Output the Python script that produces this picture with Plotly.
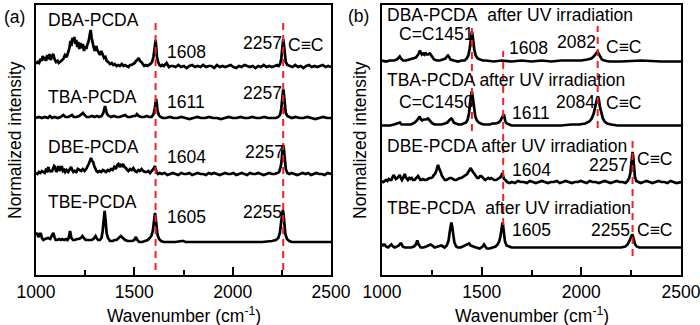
import plotly.graph_objects as go

W, H = 700, 325

# ---------------------------------------------------------------
# Raman spectra, (wavenumber cm^-1, relative intensity) pairs
# ---------------------------------------------------------------
# (a) as-prepared films
dba = [(1000, 4), (1008, 6), (1016, 5), (1022, 9), (1028, 7), (1034, 12), (1040, 8), (1046, 11),
       (1051, 7), (1057, 13), (1063, 9), (1069, 14), (1075, 8), (1081, 12), (1088, 14), (1094, 9),
       (1102, 6), (1110, 7), (1116, 5), (1122, 6), (1130, 8), (1139, 9), (1147, 13), (1156, 11),
       (1164, 16), (1170, 20), (1175, 27), (1180, 22), (1185, 30), (1190, 26), (1195, 31), (1200, 24),
       (1205, 28), (1210, 21), (1215, 26), (1220, 19), (1226, 25), (1232, 20), (1238, 24), (1244, 17),
       (1250, 22), (1256, 19), (1262, 24), (1268, 27), (1273, 33), (1278, 38), (1283, 30), (1288, 25),
       (1294, 20), (1300, 17), (1306, 22), (1312, 18), (1318, 15), (1325, 13), (1332, 17), (1339, 14),
       (1346, 10), (1353, 11), (1360, 7), (1368, 6), (1376, 4), (1385, 5), (1393, 3), (1400, 4),
       (1410, 2), (1418, 3), (1426, 2), (1436, 4), (1445, 2), (1452, 3), (1461, 2), (1470, 1),
       (1478, 3), (1486, 3), (1494, 4), (1502, 5), (1508, 7), (1515, 8), (1522, 10), (1529, 7),
       (1536, 6), (1543, 4), (1550, 2), (1558, 3), (1566, 2), (1574, 3), (1582, 4), (1590, 6),
       (1597, 11), (1602, 18), (1606, 26), (1608, 28), (1611, 22), (1615, 11), (1621, 6), (1628, 3),
       (1635, 2), (1642, 3), (1650, 2), (1657, 4), (1664, 5), (1670, 3), (1676, 1), (1684, 2),
       (1696, 2), (1710, 1), (1724, 3), (1738, 1), (1752, 2), (1766, 0), (1780, 2), (1794, 3),
       (1808, 1), (1822, 2), (1836, 1), (1850, 3), (1864, 1), (1878, 2), (1892, 2), (1906, 0),
       (1920, 3), (1934, 1), (1948, 2), (1962, 1), (1976, 2), (1990, 3), (2004, 1), (2018, 0),
       (2032, 2), (2046, 1), (2060, 3), (2074, 2), (2088, 1), (2102, 2), (2116, 0), (2130, 2),
       (2144, 1), (2158, 3), (2172, 1), (2186, 2), (2200, 1), (2214, 2), (2226, 3), (2234, 2),
       (2241, 4), (2247, 9), (2252, 18), (2255, 26), (2257, 29), (2260, 25), (2264, 14), (2270, 6),
       (2278, 3), (2290, 2), (2304, 1), (2318, 3), (2332, 1), (2346, 2), (2360, 0), (2374, 2),
       (2388, 3), (2402, 1), (2416, 2), (2430, 1), (2444, 2), (2458, 3), (2472, 1), (2486, 2),
       (2500, 1)]

tba = [(1000, 1), (1015, 2), (1030, 1), (1045, 2), (1060, 1), (1071, 3), (1082, 1), (1095, 2),
       (1110, 1), (1125, 2), (1139, 4), (1150, 2), (1165, 2), (1175, 3), (1183, 4), (1192, 2),
       (1205, 2), (1220, 3), (1232, 5), (1239, 6), (1247, 4), (1258, 2), (1270, 2), (1285, 3),
       (1298, 2), (1310, 3), (1322, 2), (1334, 3), (1342, 6), (1347, 10), (1351, 13), (1355, 10),
       (1361, 5), (1370, 3), (1382, 2), (1395, 3), (1410, 2), (1425, 2), (1440, 3), (1453, 4),
       (1465, 2), (1480, 2), (1495, 3), (1505, 3), (1513, 5), (1522, 3), (1535, 2), (1550, 2),
       (1563, 3), (1575, 2), (1588, 2), (1598, 5), (1604, 11), (1608, 18), (1611, 20), (1614, 16),
       (1618, 8), (1625, 4), (1633, 2), (1645, 1), (1660, 1), (1680, 2), (1700, 1), (1720, 1),
       (1740, 2), (1760, 1), (1780, 0), (1800, 1), (1820, 2), (1840, 1), (1860, 1), (1880, 2),
       (1900, 1), (1920, 1), (1940, 0), (1960, 1), (1980, 2), (2000, 1), (2020, 1), (2040, 2),
       (2060, 1), (2080, 1), (2100, 2), (2120, 1), (2140, 1), (2160, 2), (2180, 1), (2200, 1),
       (2220, 1), (2232, 2), (2241, 4), (2247, 10), (2252, 20), (2255, 27), (2257, 30), (2260, 26),
       (2264, 15), (2270, 6), (2278, 3), (2288, 2), (2300, 1), (2320, 2), (2340, 1), (2360, 1),
       (2380, 2), (2400, 1), (2420, 0), (2440, 1), (2460, 2), (2480, 1), (2500, 1)]

dbe = [(1000, 2), (1008, 1), (1015, 3), (1022, 2), (1030, 4), (1037, 3), (1044, 2), (1050, 5),
       (1056, 4), (1063, 8), (1069, 3), (1075, 5), (1080, 3), (1086, 6), (1092, 9), (1097, 8),
       (1103, 3), (1109, 5), (1114, 9), (1120, 4), (1126, 6), (1131, 9), (1137, 4), (1143, 5),
       (1148, 3), (1155, 5), (1164, 3), (1172, 6), (1178, 8), (1184, 5), (1190, 3), (1197, 4),
       (1205, 3), (1213, 6), (1222, 5), (1230, 4), (1238, 6), (1247, 4), (1255, 6), (1262, 8),
       (1268, 11), (1274, 14), (1280, 17), (1285, 14), (1291, 13), (1296, 9), (1301, 7), (1308, 4),
       (1315, 3), (1323, 4), (1332, 3), (1340, 5), (1348, 4), (1356, 3), (1365, 5), (1373, 4),
       (1381, 6), (1390, 5), (1398, 8), (1406, 6), (1413, 10), (1419, 11), (1425, 8), (1431, 10),
       (1437, 9), (1443, 11), (1450, 8), (1457, 7), (1464, 5), (1470, 4), (1478, 6), (1486, 5),
       (1495, 7), (1503, 4), (1512, 3), (1520, 5), (1528, 4), (1537, 6), (1545, 4), (1553, 3),
       (1563, 3), (1572, 4), (1580, 2), (1588, 4), (1595, 5), (1600, 7), (1604, 9), (1608, 6),
       (1613, 3), (1620, 1), (1628, 2), (1640, 1), (1654, 2), (1668, 0), (1682, 1), (1696, 2),
       (1710, 1), (1724, 0), (1738, 2), (1752, 1), (1766, 1), (1780, 2), (1794, 0), (1808, 1),
       (1822, 2), (1836, 1), (1850, 1), (1864, 0), (1878, 2), (1892, 1), (1906, 2), (1920, 1),
       (1934, 0), (1948, 1), (1962, 2), (1976, 1), (1990, 1), (2004, 2), (2018, 0), (2032, 1),
       (2046, 2), (2060, 1), (2074, 0), (2088, 2), (2102, 1), (2116, 1), (2130, 2), (2144, 1),
       (2158, 0), (2172, 1), (2186, 2), (2200, 1), (2214, 1), (2226, 2), (2236, 3), (2244, 8),
       (2249, 14), (2253, 24), (2257, 30), (2260, 27), (2264, 16), (2270, 6), (2278, 2), (2288, 1),
       (2300, 2), (2314, 1), (2328, 0), (2342, 1), (2356, 2), (2370, 1), (2384, 2), (2398, 0),
       (2412, 1), (2426, 2), (2440, 1), (2454, 1), (2468, 0), (2482, 2), (2500, 1)]

tbe = [(1000, 8), (1006, 10), (1012, 6), (1018, 8), (1024, 10), (1030, 5), (1037, 3), (1045, 4),
       (1055, 5), (1063, 5), (1072, 4), (1080, 7), (1088, 10), (1094, 6), (1100, 3), (1108, 3),
       (1118, 4), (1126, 3), (1134, 4), (1143, 3), (1152, 4), (1160, 3), (1166, 5), (1173, 12),
       (1180, 5), (1188, 3), (1198, 3), (1208, 4), (1218, 4), (1228, 5), (1236, 7), (1243, 5),
       (1252, 3), (1262, 3), (1272, 3), (1283, 3), (1292, 4), (1299, 6), (1303, 7), (1308, 5),
       (1316, 3), (1325, 3), (1333, 5), (1339, 12), (1344, 24), (1349, 32), (1354, 22), (1359, 10),
       (1366, 5), (1376, 2), (1390, 2), (1400, 3), (1410, 3), (1420, 5), (1431, 7), (1442, 5),
       (1453, 3), (1466, 2), (1478, 2), (1490, 2), (1500, 3), (1508, 6), (1515, 3), (1525, 1),
       (1540, 1), (1554, 2), (1568, 3), (1578, 5), (1586, 7), (1594, 12), (1600, 22), (1603, 28),
       (1605, 30), (1608, 26), (1612, 15), (1618, 8), (1626, 4), (1636, 2), (1650, 1), (1680, 1),
       (1710, 1), (1740, 2), (1750, 2), (1760, 1), (1800, 1), (1850, 1), (1900, 1), (1950, 1),
       (2000, 1), (2050, 1), (2100, 1), (2150, 1), (2200, 2), (2220, 3), (2232, 5), (2240, 10),
       (2246, 20), (2250, 28), (2253, 32), (2255, 33), (2258, 30), (2262, 19), (2268, 9), (2276, 4),
       (2288, 2), (2300, 1), (2350, 1), (2400, 1), (2450, 1), (2500, 1)]

# (b) the same films after UV irradiation
dba_uv = [(1000, 1), (1020, 0), (1040, 1), (1060, 1), (1075, 2), (1083, 4), (1089, 5), (1095, 3),
          (1105, 1), (1120, 1), (1135, 2), (1147, 3), (1158, 3), (1170, 4), (1178, 6), (1185, 8),
          (1190, 11), (1195, 9), (1200, 7), (1206, 8), (1212, 7), (1217, 9), (1223, 7), (1231, 7),
          (1238, 8), (1244, 7), (1252, 4), (1261, 2), (1275, 1), (1289, 1), (1305, 2), (1318, 3),
          (1326, 5), (1331, 6), (1338, 4), (1344, 2), (1360, 1), (1381, 0), (1400, 1), (1415, 1),
          (1425, 3), (1433, 6), (1440, 13), (1445, 22), (1449, 29), (1451, 30), (1454, 27), (1458, 19),
          (1463, 12), (1470, 6), (1480, 3), (1492, 2), (1505, 1), (1520, 1), (1560, 0), (1600, 1),
          (1650, 0), (1700, 1), (1750, 0), (1800, 1), (1850, 0), (1900, 1), (1950, 1), (2000, 1),
          (2030, 2), (2050, 3), (2062, 5), (2072, 8), (2078, 10), (2082, 10), (2086, 8), (2093, 5),
          (2103, 2), (2115, 1), (2140, 0), (2200, 0), (2300, 1), (2400, 0), (2500, 0)]

tba_uv = [(1000, 1), (1020, 1), (1040, 1), (1060, 2), (1075, 3), (1084, 4), (1090, 4), (1098, 2),
          (1112, 2), (1130, 2), (1145, 2), (1155, 3), (1165, 4), (1175, 6), (1182, 8), (1189, 10),
          (1195, 7), (1201, 6), (1208, 7), (1214, 7), (1222, 7), (1231, 8), (1238, 6), (1244, 5),
          (1254, 3), (1265, 2), (1280, 2), (1298, 2), (1315, 3), (1328, 4), (1336, 6), (1342, 7),
          (1348, 8), (1353, 7), (1360, 4), (1370, 3), (1385, 2), (1398, 2), (1412, 3), (1422, 4),
          (1430, 7), (1437, 14), (1442, 24), (1446, 32), (1450, 35), (1453, 33), (1457, 25), (1462, 17),
          (1468, 10), (1476, 6), (1485, 4), (1495, 3), (1510, 2), (1525, 2), (1540, 2), (1555, 3),
          (1570, 3), (1585, 4), (1595, 6), (1602, 9), (1607, 11), (1611, 12), (1614, 10), (1619, 5),
          (1626, 3), (1636, 2), (1650, 1), (1700, 1), (1750, 1), (1800, 1), (1850, 1), (1900, 1),
          (1950, 2), (1990, 2), (2020, 3), (2040, 5), (2052, 8), (2062, 13), (2070, 20), (2076, 26),
          (2080, 29), (2084, 30), (2088, 27), (2093, 20), (2100, 13), (2108, 8), (2117, 5), (2130, 3),
          (2150, 2), (2180, 1), (2230, 1), (2300, 1), (2400, 1), (2500, 1)]

dbe_uv = [(1000, 2), (1007, 1), (1013, 2), (1020, 3), (1027, 2), (1034, 4), (1040, 3), (1047, 3),
          (1053, 6), (1058, 8), (1064, 6), (1070, 4), (1077, 5), (1083, 7), (1089, 8), (1094, 5),
          (1100, 3), (1106, 5), (1110, 7), (1114, 9), (1119, 6), (1124, 4), (1130, 3), (1137, 5),
          (1143, 4), (1149, 5), (1156, 3), (1163, 3), (1170, 5), (1176, 6), (1181, 7), (1187, 5),
          (1192, 3), (1197, 3), (1205, 4), (1213, 3), (1222, 3), (1230, 4), (1238, 5), (1247, 5),
          (1254, 6), (1260, 8), (1266, 9), (1272, 12), (1277, 16), (1281, 18), (1286, 15), (1291, 13),
          (1296, 10), (1301, 7), (1308, 5), (1315, 3), (1323, 3), (1331, 4), (1340, 5), (1348, 5),
          (1356, 4), (1364, 3), (1373, 3), (1381, 4), (1390, 5), (1398, 5), (1406, 6), (1414, 7),
          (1420, 8), (1427, 9), (1433, 11), (1440, 14), (1445, 15), (1450, 13), (1456, 11), (1461, 10),
          (1467, 8), (1473, 6), (1478, 5), (1485, 5), (1492, 7), (1498, 7), (1505, 5), (1512, 4),
          (1518, 3), (1526, 4), (1533, 5), (1540, 4), (1548, 5), (1556, 4), (1563, 3), (1573, 3),
          (1582, 4), (1590, 5), (1595, 6), (1600, 8), (1604, 10), (1608, 7), (1612, 4), (1619, 3),
          (1628, 1), (1640, 0), (1652, 1), (1667, 0), (1682, 2), (1697, 1), (1712, 1), (1727, 0),
          (1742, 2), (1757, 1), (1772, 0), (1787, 1), (1802, 2), (1817, 1), (1832, 0), (1847, 1),
          (1862, 1), (1877, 2), (1892, 0), (1907, 1), (1922, 2), (1937, 1), (1952, 0), (1967, 1),
          (1982, 1), (1997, 2), (2012, 1), (2027, 0), (2042, 2), (2057, 1), (2072, 1), (2087, 0),
          (2102, 1), (2117, 2), (2132, 1), (2147, 0), (2162, 1), (2177, 2), (2192, 1), (2207, 1),
          (2222, 0), (2232, 2), (2240, 5), (2246, 10), (2250, 18), (2254, 28), (2257, 31), (2260, 27),
          (2264, 15), (2269, 6), (2276, 2), (2285, 1), (2297, 0), (2312, 1), (2327, 2), (2342, 1),
          (2357, 0), (2372, 1), (2387, 2), (2402, 1), (2417, 1), (2432, 0), (2447, 2), (2462, 1),
          (2477, 0), (2500, 1)]

tbe_uv = [(1000, 2), (1006, 4), (1013, 4), (1020, 2), (1030, 1), (1040, 3), (1047, 4), (1055, 2),
          (1064, 1), (1075, 2), (1085, 3), (1092, 5), (1097, 5), (1104, 2), (1114, 1), (1130, 1),
          (1147, 1), (1160, 2), (1170, 4), (1177, 8), (1184, 4), (1194, 1), (1208, 1), (1222, 2),
          (1235, 3), (1244, 4), (1252, 3), (1264, 1), (1280, 2), (1290, 3), (1298, 3), (1306, 2),
          (1314, 1), (1325, 3), (1334, 8), (1340, 17), (1345, 25), (1348, 26), (1352, 22), (1357, 13),
          (1363, 6), (1372, 2), (1381, 1), (1395, 1), (1408, 2), (1420, 3), (1430, 4), (1437, 5),
          (1445, 3), (1456, 2), (1472, 1), (1490, 0), (1505, 2), (1512, 4), (1518, 2), (1525, 0),
          (1540, 0), (1557, 1), (1570, 2), (1580, 4), (1588, 7), (1594, 12), (1599, 19), (1603, 25),
          (1605, 26), (1608, 22), (1612, 13), (1617, 7), (1625, 3), (1635, 2), (1650, 1), (1700, 1),
          (1750, 1), (1800, 1), (1900, 1), (2000, 1), (2100, 1), (2150, 1), (2200, 1), (2220, 2),
          (2232, 4), (2240, 7), (2247, 11), (2252, 13), (2255, 14), (2258, 13), (2263, 9), (2270, 4),
          (2278, 2), (2290, 1), (2350, 1), (2400, 1), (2500, 1)]

# vertical stacking offsets (same units as intensity)
offsets_a = [207, 156, 100, 32]
offsets_b = [213.5, 148.5, 92, 26.5]

# reference band positions (red dashed guides) and their vertical spans
guides_a = [(1608, 5, 255), (2257, 5, 257)]
guides_b = [(1451, 144, 252), (1608, 50, 224), (2082, 147, 249), (2257, 19, 137)]

tick_vals = [1000, 1500, 2000, 2500]
minor_vals = [1250, 1750, 2250]

FONT = "Arial, Liberation Sans, sans-serif"

fig = go.Figure()


def add_spectrum(pairs, offset, xa, ya):
    xs = [p[0] for p in pairs]
    ys = [p[1] + offset for p in pairs]
    fig.add_trace(go.Scatter(x=xs, y=ys, mode="lines", xaxis=xa, yaxis=ya,
                             line=dict(color="black", width=2.7), showlegend=False,
                             hoverinfo="skip"))


for spec, off in zip([dba, tba, dbe, tbe], offsets_a):
    add_spectrum(spec, off, "x", "y")
for spec, off in zip([dba_uv, tba_uv, dbe_uv, tbe_uv], offsets_b):
    add_spectrum(spec, off, "x2", "y2")

shapes = []
for xv, y0, y1 in guides_a:
    shapes.append(dict(type="line", xref="x", yref="y", x0=xv, x1=xv, y0=y0, y1=y1,
                       line=dict(color="#ee2222", width=2, dash="7px,5px")))
for xv, y0, y1 in guides_b:
    shapes.append(dict(type="line", xref="x2", yref="y2", x0=xv, x1=xv, y0=y0, y1=y1,
                       line=dict(color="#ee2222", width=2, dash="7px,5px")))


def px(x):
    return x / W


def py(y):
    return 1 - y / H


annotations = []


def label(text, x, y, size=17.5, xanchor="left", angle=0):
    annotations.append(dict(text=text, x=px(x), y=py(y), xref="paper", yref="paper",
                            xanchor=xanchor, yanchor="middle", showarrow=False,
                            textangle=angle, font=dict(family=FONT, size=size, color="black")))


NB = "\u00a0"
# panel (a)
label("(a)", 2, 17)
label("DBA-PCDA", 46, 20)
label("1608", 165, 52)
label("2257", 241, 43)
label("C≡C", 286, 45)
label("TBA-PCDA", 46, 97)
label("1611", 165, 102)
label("2257", 241, 93)
label("DBE-PCDA", 46, 147)
label("1604", 165, 157)
label("2257", 243, 152)
label("TBE-PCDA", 46, 202)
label("1605", 165, 217)
label("2255", 241, 212)
# panel (b)
label("(b)", 346, 16)
label("DBA-PCDA" + NB + " after UV irradiation", 385, 15)
label("C=C1451", 397, 34)
label("1608", 507, 48)
label("2082", 555, 42)
label("C≡C", 604, 47)
label("TBA-PCDA after UV irradiation", 385, 80)
label("C=C1450", 397, 102)
label("1611", 510, 113)
label("2084", 554, 102)
label("C≡C", 604, 103)
label("DBE-PCDA after UV irradiation", 385, 146)
label("C≡C", 635, 159)
label("1604", 510, 170)
label("2257", 587, 165)
label("TBE-PCDA" + NB + " after UV irradiation", 385, 208)
label("1605", 510, 230)
label("2255", 589, 230)
label("C≡C", 635, 230)
# axis titles
for xc in (15, 360):
    label("Normalized intensity", xc, 140, xanchor="center", angle=-90)
for xc in (184, 532):
    label("Wavenumber (cm<sup>-1</sup>)", xc, 315, xanchor="center")

xaxis_common = dict(range=[1000, 2500], showline=True, linecolor="black", linewidth=2,
                    mirror=True, ticks="inside", ticklen=8, tickwidth=2, tickcolor="black",
                    tickvals=tick_vals, ticktext=[str(v) for v in tick_vals],
                    minor=dict(tickvals=minor_vals, ticks="inside", ticklen=5, tickwidth=2,
                               tickcolor="black"),
                    showgrid=False, zeroline=False, automargin=False,
                    ticklabeloverflow="allow",
                    tickfont=dict(family=FONT, size=17.5, color="black"))
yaxis_common = dict(range=[0, 270], showline=True, linecolor="black", linewidth=2, mirror=True,
                    ticks="", showticklabels=False, showgrid=False, zeroline=False,
                    automargin=False, domain=[1 - 275 / H, 1 - 5 / H])

fig.update_layout(
    width=W, height=H,
    margin=dict(l=0, r=0, t=0, b=0, autoexpand=False),
    paper_bgcolor="white", plot_bgcolor="white",
    xaxis=dict(domain=[36 / W, 331 / W], anchor="y", **xaxis_common),
    xaxis2=dict(domain=[382 / W, 681 / W], anchor="y2", **xaxis_common),
    yaxis=dict(anchor="x", **yaxis_common),
    yaxis2=dict(anchor="x2", **yaxis_common),
    shapes=shapes,
    annotations=annotations,
)

fig.write_html("out.html")
